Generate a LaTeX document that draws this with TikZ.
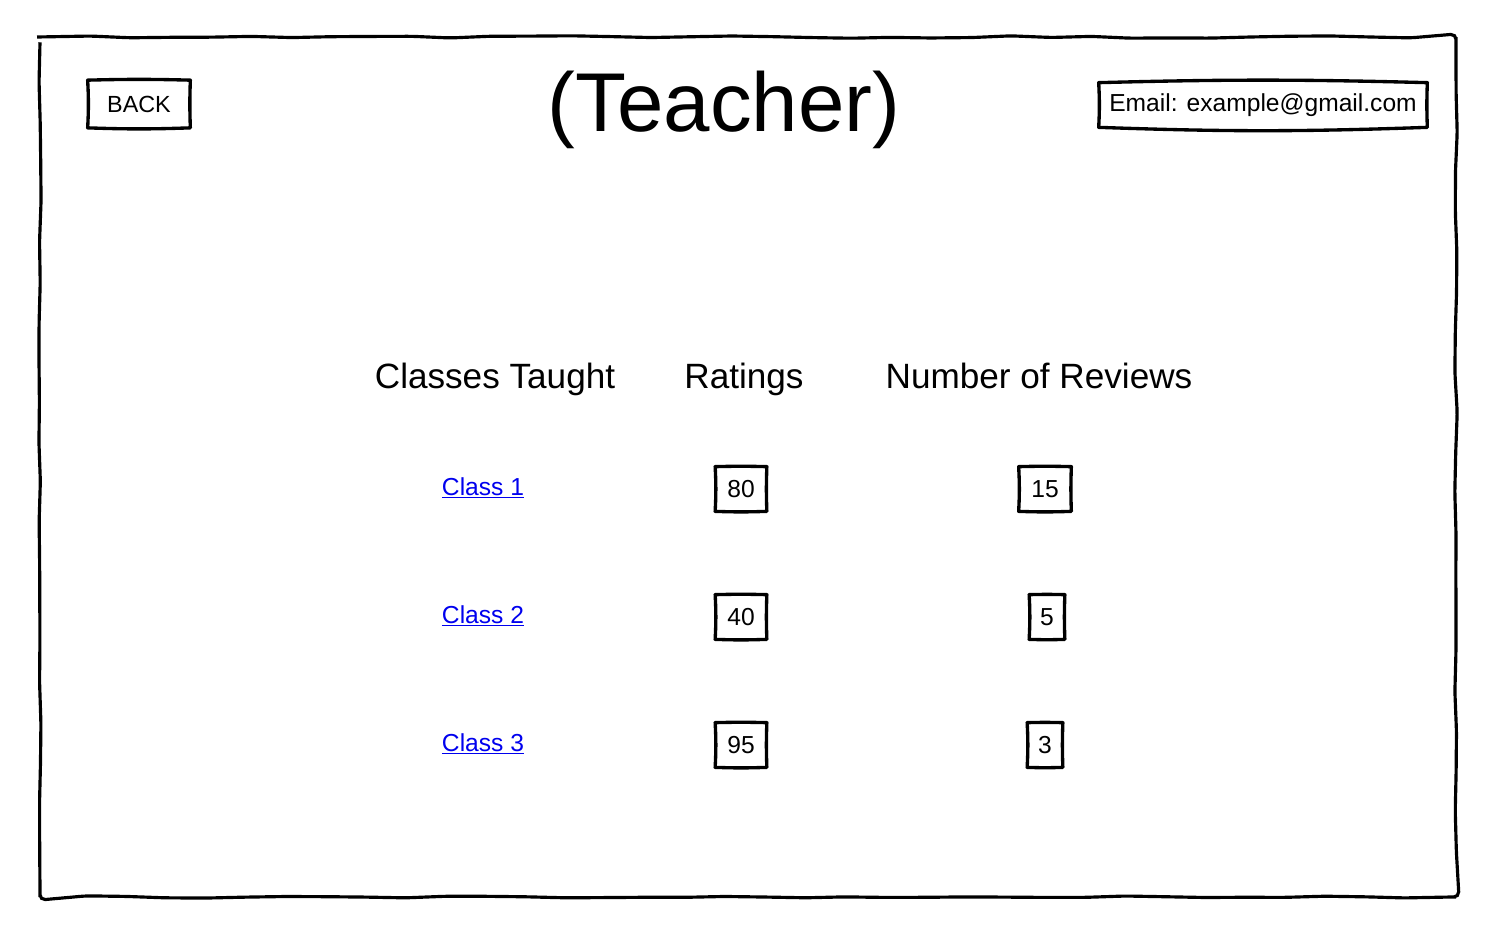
\documentclass[tikz,border=0pt]{standalone}
\usepackage{fontspec}
\setmainfont{Liberation Sans}
\usetikzlibrary{decorations.pathmorphing}
\definecolor{linkblue}{RGB}{0,0,238}

\begin{document}
\begin{tikzpicture}[x=0.02cm,y=-0.02cm,
    sketch/.style={line width=1.8pt, decorate, decoration={random steps, segment length=0.8cm, amplitude=0.7pt}, rounded corners=3pt},
    boxline/.style={line width=1.9pt, line join=round, line cap=round},
    big/.style={font=\fontsize{20}{24}\selectfont, anchor=base},
    small/.style={font=\fontsize{14}{17}\selectfont},
    numbox/.style={small, minimum height=0.88cm, inner sep=2pt},
    link/.style={small, text=linkblue}]
    \useasboundingbox (0,0) rectangle (1494,940);
    \draw[sketch] (40,37) rectangle (1456,897);

    \node[minimum width=2.04cm, minimum height=0.94cm, font=\fontsize{13.3}{16}\selectfont] (back) at (139,104) {BACK};
    \node[font=\fontsize{47.5}{52}\selectfont] (title) at (724,110) {(Teacher)};
    \node[small, minimum width=6.56cm, minimum height=0.88cm] (email) at (1263,105) {Email: example@gmail.com};

    \node[big] (classes) at (495,388) {Classes Taught};
    \node[big] (ratings) at (744,388) {Ratings};
    \node[big] (reviews) at (1039,388) {Number of Reviews};

    \node[link] (class1) at (483,488) {\underline{Class 1}};
    \node[link] (class2) at (483,616) {\underline{Class 2}};
    \node[link] (class3) at (483,744) {\underline{Class 3}};

    \node[numbox, minimum width=1.02cm] (rating1) at (741,489) {80};
    \node[numbox, minimum width=1.02cm] (rating2) at (741,617) {40};
    \node[numbox, minimum width=1.02cm] (rating3) at (741,745) {95};

    \node[numbox, minimum width=1.04cm] (reviews1) at (1045,489) {15};
    \node[numbox, minimum width=0.7cm] (reviews2) at (1047,617) {5};
    \node[numbox, minimum width=0.7cm] (reviews3) at (1045,745) {3};

    % hand drawn borders
    \foreach \n in {back,email,rating1,rating2,rating3,reviews1,reviews2,reviews3}
        \draw[boxline] (\n.north west) to[bend left=1.5] (\n.north east)
            to[bend right=2] (\n.south east) to[bend left=2] (\n.south west)
            to[bend right=3] cycle;
\end{tikzpicture}
\end{document}
